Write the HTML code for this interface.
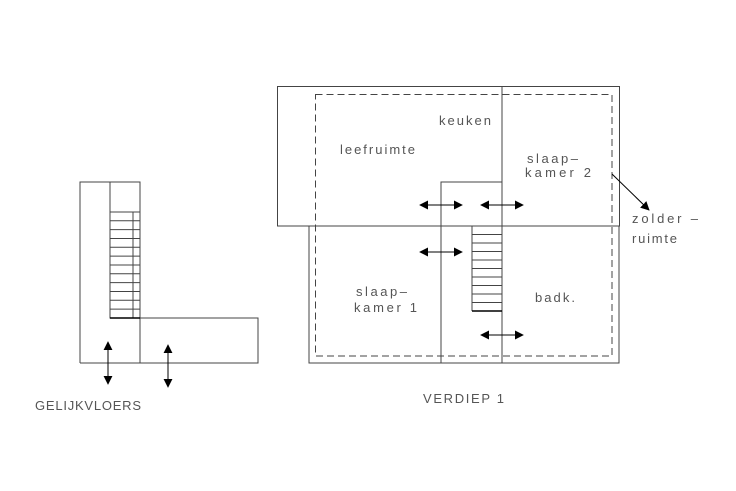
<!DOCTYPE html>
<html><head><meta charset="utf-8"><style>
html,body{margin:0;padding:0;background:#fff;}
svg{display:block}
text{font-family:"Liberation Sans","DejaVu Sans",sans-serif;font-size:13px;fill:#555;}
</style></head><body>
<svg width="736" height="491" viewBox="0 0 736 491" xmlns="http://www.w3.org/2000/svg">
<defs>
<marker id="a" viewBox="0 0 10 10" refX="9" refY="5" markerWidth="9" markerHeight="9" markerUnits="userSpaceOnUse" orient="auto-start-reverse"><path d="M0,0 L10,5 L0,10 z" fill="#000"/></marker>
</defs>
<g stroke="#444" stroke-width="1" fill="none">
<!-- ground floor -->
<polyline points="80,363 80,182 140,182 140,363"/>
<polyline points="110,182 110,318 258,318 258,363 80,363"/>
<line x1="133" y1="212" x2="133" y2="318"/>
<line x1="110" y1="212" x2="140" y2="212"/>
<line x1="110" y1="220.8" x2="140" y2="220.8"/>
<line x1="110" y1="229.6" x2="140" y2="229.6"/>
<line x1="110" y1="238.5" x2="140" y2="238.5"/>
<line x1="110" y1="247.3" x2="140" y2="247.3"/>
<line x1="110" y1="256.1" x2="140" y2="256.1"/>
<line x1="110" y1="265" x2="140" y2="265"/>
<line x1="110" y1="273.8" x2="140" y2="273.8"/>
<line x1="110" y1="282.6" x2="140" y2="282.6"/>
<line x1="110" y1="291.5" x2="140" y2="291.5"/>
<line x1="110" y1="300.3" x2="140" y2="300.3"/>
<line x1="110" y1="309.1" x2="140" y2="309.1"/>
<line x1="110" y1="318" x2="140" y2="318" stroke-width="1.5" stroke="#000"/>
<!-- upper floor -->
<rect x="277.5" y="86.5" width="342" height="139.5"/>
<polyline points="309,226 309,363 619,363 619,226"/>
<line x1="502" y1="86" x2="502" y2="363"/>
<polyline points="441,226 441,182 502,182"/>
<line x1="441" y1="226" x2="441" y2="363"/>
<rect x="315.5" y="94.5" width="296.5" height="261.5" stroke-dasharray="7,4"/>
<line x1="472" y1="226" x2="472" y2="311"/>
<line x1="472" y1="234.5" x2="502" y2="234.5"/>
<line x1="472" y1="243" x2="502" y2="243"/>
<line x1="472" y1="251.5" x2="502" y2="251.5"/>
<line x1="472" y1="260" x2="502" y2="260"/>
<line x1="472" y1="268.5" x2="502" y2="268.5"/>
<line x1="472" y1="277" x2="502" y2="277"/>
<line x1="472" y1="285.5" x2="502" y2="285.5"/>
<line x1="472" y1="294" x2="502" y2="294"/>
<line x1="472" y1="302.5" x2="502" y2="302.5"/>
<line x1="472" y1="311" x2="502" y2="311" stroke="#000" stroke-width="1.5"/>
</g>
<g stroke="#000" stroke-width="1" marker-start="url(#a)" marker-end="url(#a)">
<line x1="108" y1="342" x2="108" y2="384"/>
<line x1="168" y1="345" x2="168" y2="387"/>
<line x1="420" y1="205" x2="462" y2="205"/>
<line x1="481" y1="205" x2="523" y2="205"/>
<line x1="420" y1="252" x2="462" y2="252"/>
<line x1="481" y1="335" x2="523" y2="335"/>
</g>
<line x1="612" y1="174" x2="649" y2="210" stroke="#000" marker-end="url(#a)"/>
<text x="439" y="125" textLength="52">keuken</text>
<text x="340" y="154" textLength="75">leefruimte</text>
<text x="527" y="163" textLength="51">slaap–</text>
<text x="525" y="177" textLength="66">kamer  2</text>
<text x="632" y="223" textLength="66">zolder  –</text>
<text x="632" y="243" textLength="45">ruimte</text>
<text x="356" y="296" textLength="51">slaap–</text>
<text x="354" y="312" textLength="63">kamer  1</text>
<text x="535" y="302" textLength="40">badk.</text>
<text x="35" y="410" textLength="106">GELIJKVLOERS</text>
<text x="423" y="403" textLength="81">VERDIEP  1</text>
</svg>
</body></html>
